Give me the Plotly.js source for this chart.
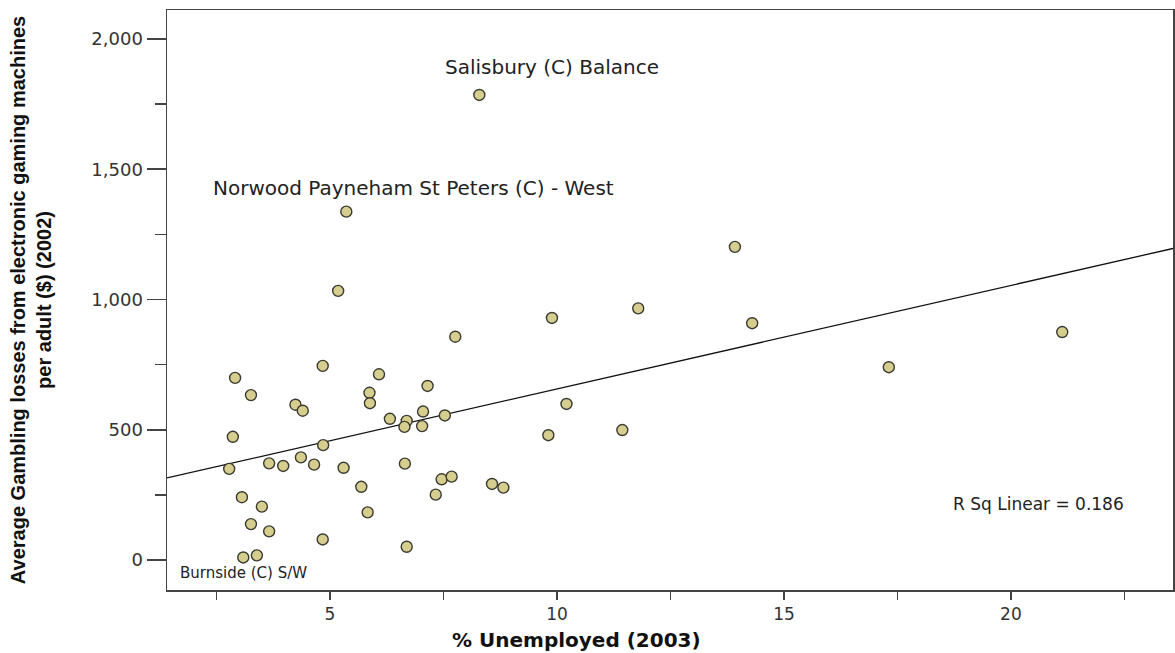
<!DOCTYPE html>
<html>
<head>
<meta charset="utf-8">
<script src="https://cdn.plot.ly/plotly-3.0.1.min.js"></script>
<style>
  html, body { margin: 0; padding: 0; background: #fff; }
  #chart { width: 1175px; height: 653px; }
</style>
</head>
<body>
<div id="chart"></div>
<script>
// % Unemployed (2003)
const unemployed = [
  8.29, 5.36, 5.18, 13.92, 11.79, 9.89, 14.30, 7.76, 21.13, 17.31,
  2.91, 4.84, 6.08, 7.15, 3.26, 5.87, 5.88, 4.24, 4.40, 10.21,
  6.32, 6.69, 6.64, 7.03, 7.05, 7.53, 2.86, 4.85, 9.81, 11.44,
  2.78, 3.66, 3.97, 4.36, 4.65, 5.30, 6.65, 3.06, 3.50, 3.26,
  3.66, 5.69, 5.83, 4.84, 6.69, 3.09, 3.39, 7.33, 7.46, 7.68,
  8.57, 8.82
];
// Average gambling losses per adult ($) (2002)
const losses = [
  1785, 1337, 1033, 1202, 966, 929, 909, 857, 875, 740,
  699, 745, 713, 668, 633, 642, 602, 596, 573, 599,
  542, 534, 511, 514, 570, 555, 473, 441, 479, 499,
  350, 371, 361, 394, 366, 354, 370, 241, 205, 138,
  110, 281, 183, 79, 51, 10, 18, 251, 310, 320,
  292, 278
];
// Labelled cases (index into the arrays above)
const labelNames = ["Salisbury (C) Balance", "Norwood Payneham St Peters (C) - West", "Burnside (C) S/W"];
const labelIndex = [0, 1, 45];
const rSqText = "R Sq Linear = 0.186";

const xRange = [1.41, 23.57];
const yRange = [-115, 2111];

// least-squares fit line from the data
const n = unemployed.length;
const mx = unemployed.reduce((a, b) => a + b, 0) / n;
const my = losses.reduce((a, b) => a + b, 0) / n;
let sxy = 0, sxx = 0;
for (let i = 0; i < n; i++) { sxy += (unemployed[i] - mx) * (losses[i] - my); sxx += (unemployed[i] - mx) ** 2; }
const slope = sxy / sxx;
const intercept = my - slope * mx;
const fitX = xRange.slice();
const fitY = fitX.map(v => intercept + slope * v);

const labelShifts = [[73, 28], [67, 24], [0, -16]];
const labelSizes = [20, 20, 15];
const annotations = labelIndex.map((idx, k) => ({
  x: unemployed[idx], y: losses[idx], xref: 'x', yref: 'y',
  xanchor: 'center', yanchor: 'middle',
  text: labelNames[k], showarrow: false,
  xshift: labelShifts[k][0], yshift: labelShifts[k][1],
  font: { family: 'DejaVu Sans', size: labelSizes[k], color: '#222' }
}));
annotations.push({
  xref: 'paper', yref: 'paper', x: 0.866, y: 0.148, xanchor: 'center', yanchor: 'middle',
  text: rSqText, showarrow: false,
  font: { family: 'DejaVu Sans', size: 17, color: '#222' }
});
annotations.push({
  xref: 'paper', yref: 'paper', x: 0.4066, y: -0.0862, xanchor: 'center', yanchor: 'middle',
  text: '% Unemployed (2003)', showarrow: false,
  font: { family: 'DejaVu Sans', size: 20, color: '#111', weight: 'bold' }
});

const traces = [
  {
    x: fitX, y: fitY, type: 'scatter', mode: 'lines',
    line: { color: '#111', width: 1.3 }, hoverinfo: 'skip', showlegend: false
  },
  {
    x: unemployed, y: losses, type: 'scatter', mode: 'markers',
    marker: { size: 11, color: '#D6CE8E', line: { color: '#3a3a30', width: 1.4 } },
    showlegend: false
  }
];

const layout = {
  width: 1175, height: 653,
  margin: { l: 167, r: 2, t: 10, b: 63 },
  paper_bgcolor: '#fff', plot_bgcolor: '#fff',
  showlegend: false,
  xaxis: {
    range: xRange, showgrid: false, zeroline: false,
    showline: true, mirror: true, linecolor: '#444', linewidth: 1.5,
    tickvals: [5, 10, 15, 20], ticks: 'outside', ticklen: 8, tickwidth: 1.5, tickcolor: '#444',
    minor: { dtick: 2.5, tick0: 0, ticks: 'outside', ticklen: 8, tickwidth: 1.5, tickcolor: '#444', showgrid: false },
    tickfont: { family: 'DejaVu Sans', size: 17, color: '#333' }
  },
  yaxis: {
    range: yRange, showgrid: false, zeroline: false,
    showline: true, mirror: true, linecolor: '#444', linewidth: 1.5,
    tickvals: [0, 500, 1000, 1500, 2000], tickformat: ',d',
    ticks: 'outside', ticklen: 19, tickwidth: 1.5, tickcolor: '#444',
    minor: { tickvals: [250, 750, 1250, 1750], ticks: 'outside', ticklen: 11, tickwidth: 1.5, tickcolor: '#444', showgrid: false },
    tickfont: { family: 'DejaVu Sans', size: 18, color: '#333' },
    title: {
      text: 'Average Gambling losses from electronic gaming machines<br>per adult ($) (2002)',
      font: { family: 'Liberation Sans', size: 20, color: '#111', weight: 'bold' },
      standoff: 34
    }
  },
  annotations: annotations
};

Plotly.newPlot('chart', traces, layout, { displayModeBar: false, staticPlot: true });
</script>
</body>
</html>
